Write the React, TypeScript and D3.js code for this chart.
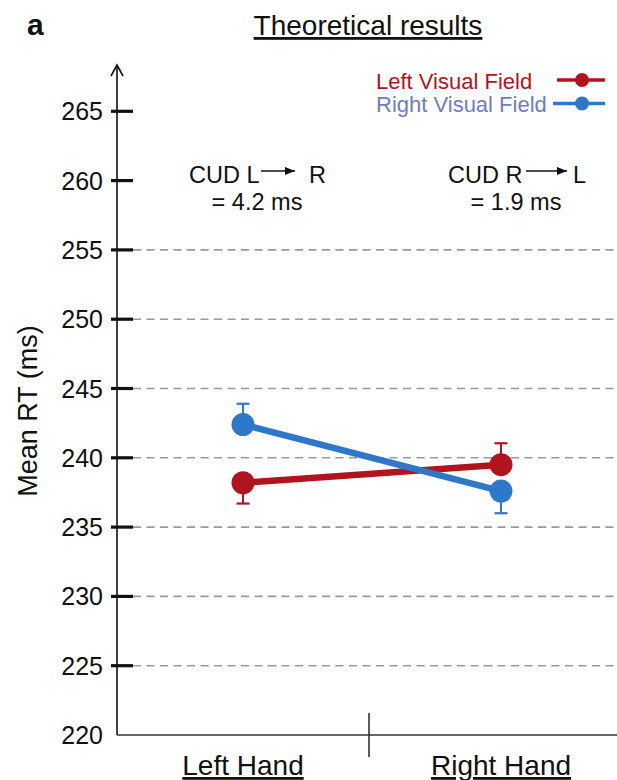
import React from "react";
import * as d3 from "d3";

const categories = ["Left Hand", "Right Hand"];
const leftVF = [238.2, 239.5];
const leftVFErr = [-1.5, 1.55];
const rightVF = [242.4, 237.6];
const rightVFErr = [1.5, -1.6];
const yTicks = [220, 225, 230, 235, 240, 245, 250, 255, 260, 265];
const gridTicks = [225, 230, 235, 240, 245, 250, 255];

const RED = "#B0141E";
const BLUE = "#2F78C8";
const BLUE_TEXT = "#6E7DC3";
const FONT = "'Liberation Sans', Arial, Helvetica, sans-serif";

export default function App() {
  const W = 617, H = 780;
  const axisX = 117;
  const y = d3.scaleLinear().domain([220, 265]).range([735, 111.3]);
  const x = d3.scalePoint<string>().domain(categories).range([243, 501]);
  const line = d3.line<[number, number]>().x(d => d[0]).y(d => d[1]);

  const series = [
    { vals: leftVF, err: leftVFErr, color: RED },
    { vals: rightVF, err: rightVFErr, color: BLUE },
  ];

  return (
    <svg width={W} height={H} style={{ position: "absolute", left: 0, top: 0 }} fontFamily={FONT}>
      <defs>
        <marker id="ah2" viewBox="0 0 10 10" refX="10" refY="5" markerWidth="10" markerHeight="10" orient="auto" markerUnits="userSpaceOnUse">
          <path d="M0,1 L10,5 L0,9 z" fill="#111" />
        </marker>
      </defs>
      <rect width={W} height={H} fill="#fff" />
      <text x={27} y={35} fontSize={30} fontWeight="bold" fill="#111">a</text>
      <text x={368} y={35} fontSize={28} textAnchor="middle" fill="#111" textDecoration="underline">Theoretical results</text>

      {/* grid lines */}
      {gridTicks.map(t => (
        <line key={"g" + t} x1={133} x2={W} y1={y(t)} y2={y(t)} stroke="#999" strokeWidth={1.6} strokeDasharray="8,5.5" />
      ))}

      {/* y axis */}
      <line x1={axisX} x2={axisX} y1={y(220)} y2={66} stroke="#111" strokeWidth={1.6} />
      <path d={`M${axisX - 6},${76} L${axisX},${65} L${axisX + 6},${76}`} fill="none" stroke="#111" strokeWidth={1.6} />
      {yTicks.map(t => (
        <g key={"t" + t}>
          {t !== 220 && <line x1={111} x2={133} y1={y(t)} y2={y(t)} stroke="#111" strokeWidth={3.2} />}
          <text x={103} y={y(t)} dy="0.36em" fontSize={25} textAnchor="end" fill="#111">{t}</text>
        </g>
      ))}
      <text transform={`translate(37,411) rotate(-90)`} fontSize={27} textAnchor="middle" fill="#111">Mean RT (ms)</text>

      {/* x axis */}
      <line x1={axisX} x2={W} y1={y(220)} y2={y(220)} stroke="#333" strokeWidth={1.6} />
      <line x1={369} x2={369} y1={713} y2={757} stroke="#333" strokeWidth={1.6} />
      {categories.map(c => (
        <text key={c} x={x(c)} y={775} fontSize={28} textAnchor="middle" fill="#111" textDecoration="underline">{c}</text>
      ))}

      {/* CUD annotations */}
      <text x={189} y={183} fontSize={23.5} fill="#111">CUD L</text>
      <line x1={261} x2={295} y1={171} y2={171} stroke="#111" strokeWidth={1.6} markerEnd="url(#ah2)" />
      <text x={309} y={183} fontSize={23.5} fill="#111">R</text>
      <text x={257} y={210} fontSize={23.5} textAnchor="middle" fill="#111">= 4.2 ms</text>

      <text x={448} y={183} fontSize={23.5} fill="#111">CUD R</text>
      <line x1={526} x2={567} y1={171} y2={171} stroke="#111" strokeWidth={1.6} markerEnd="url(#ah2)" />
      <text x={573} y={183} fontSize={23.5} fill="#111">L</text>
      <text x={516} y={210} fontSize={23.5} textAnchor="middle" fill="#111">= 1.9 ms</text>

      {/* series */}
      {series.map((s, i) => (
        <g key={"s" + i}>
          {s.vals.map((v, j) => {
            const cx = x(categories[j]) as number;
            const y1 = y(v), y2 = y(v + s.err[j]);
            return (
              <g key={j}>
                <line x1={cx} x2={cx} y1={y1} y2={y2} stroke={s.color} strokeWidth={2} />
                <line x1={cx - 6.5} x2={cx + 6.5} y1={y2} y2={y2} stroke={s.color} strokeWidth={2.2} />
              </g>
            );
          })}
        </g>
      ))}
      {series.map((s, i) => (
        <g key={"l" + i}>
          <path d={line(s.vals.map((v, j) => [x(categories[j]) as number, y(v)]))!} stroke={s.color} strokeWidth={6.5} fill="none" />
          {s.vals.map((v, j) => (
            <circle key={j} cx={x(categories[j]) as number} cy={y(v)} r={11.5} fill={s.color} />
          ))}
        </g>
      ))}

      {/* legend */}
      <text x={376} y={88.5} fontSize={22} fill={RED}>Left Visual Field</text>
      <line x1={557} x2={605} y1={80} y2={80} stroke={RED} strokeWidth={3.5} />
      <circle cx={582} cy={80} r={7} fill={RED} />
      <text x={376} y={111.5} fontSize={22} fill={BLUE_TEXT}>Right Visual Field</text>
      <line x1={553} x2={605} y1={103.5} y2={103.5} stroke={BLUE} strokeWidth={3.5} />
      <circle cx={582} cy={103.5} r={7} fill={BLUE} />
    </svg>
  );
}
